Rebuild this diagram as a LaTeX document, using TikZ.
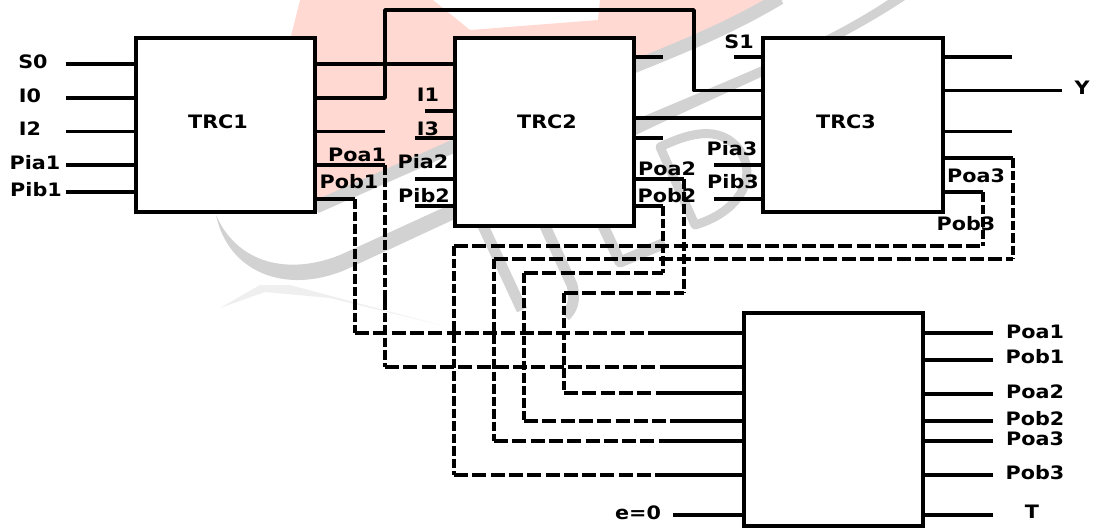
\documentclass[tikz,border=0pt]{standalone}
\usepackage{fontspec}
\setmainfont{DejaVu Sans}[FakeStretch=1.12]
\definecolor{wmpink}{HTML}{FFD9D2}
\definecolor{wmgray}{HTML}{D2D2D2}
\definecolor{wmlight}{HTML}{EFEFEF}
\tikzset{
  blockbox/.style={rectangle, draw=black, line width=4pt, fill=white, outer sep=0pt, inner sep=0pt,
                minimum width=#1},
  lbl/.style={font=\fontsize{18.5}{18.5}\selectfont\bfseries, inner sep=0pt, text=black},
  wire/.style={line width=3.2pt, draw=black},
  riser/.style={line width=3.6pt, draw=black, line join=round},
  dwire/.style={line width=3.2pt, draw=black, dash pattern=on 14pt off 4.3pt},
  dvert/.style={line width=4pt, draw=black, dash pattern=on 9.5pt off 3pt},
  wmband/.style={line width=#1, draw=wmgray, line join=round},
}
\begin{document}
\begin{tikzpicture}[x=1pt, y=-1pt]
  \useasboundingbox (0,0) rectangle (1094,528);
  % watermark
  \fill[wmpink] (300,0) -- (290,40) -- (315,213) -- (633,67) -- (783,0) -- (600,0) -- (598,20) -- (470,30) -- (433,0) -- cycle;
  \draw[wmband=13pt] (316,207) -- (633,67) .. controls (680,48) and (730,28) .. (780,-2);
  \fill[wmgray] (216,215) .. controls (228,272) and (285,295) .. (345,270) -- (640,133) .. controls (740,85) and (830,50) .. (905,0)
    -- (888,0) .. controls (820,45) and (740,75) .. (635,120) -- (340,255) .. controls (290,275) and (238,265) .. (216,215) -- cycle;
  \fill[wmlight] (220,308) -- (260,285) -- (290,285) -- (440,325) -- (330,298) -- (265,292) -- cycle;
  \draw[wmband=11pt] (478,215) -- (522,310);
  \draw[wmband=11pt] (540,215) -- (572,285) .. controls (576,300) and (572,310) .. (565,316);
  \draw[wmband=11pt] (598,215) -- (620,262) -- (665,243);
  \draw[wmband=9pt] (660,147) -- (695,225) .. controls (745,210) and (760,170) .. (735,145) .. controls (715,125) and (685,135) .. cycle;

  % blocks
  \node[blockbox=179pt, minimum height=174pt] (TRC1) at (225.5,125) {};
  \node[blockbox=179pt, minimum height=188pt] (TRC2) at (544.5,132) {};
  \node[blockbox=180pt, minimum height=174pt] (TRC3) at (853,125) {};
  \node[blockbox=179pt, minimum height=213pt] (outbox) at (833.5,419.5) {};
  \node[lbl] (tTRC1) at (218,122) {TRC1};
  \node[lbl] (tTRC2) at (547,122) {TRC2};
  \node[lbl] (tTRC3) at (846,122) {TRC3};

  % inputs of the left block
  \foreach \nm/\lx/\ly/\y in {S0/33/62/64, I0/30/96/98, I2/30/129/131.5, Pia1/35/163/165, Pib1/36/190/192}{
    \node[lbl] (l\nm) at (\lx,\ly) {\nm};
    \coordinate (c\nm) at (66,\y);
    \draw[wire] (c\nm) -- (c\nm -| TRC1.west);
  }
  % short stubs with a label
  \foreach \nm/\lx/\ly/\x/\y/\bx in {I1/428/95/425/111/TRC2, I3/428/129/415/138/TRC2, Pia2/423/162/415/179/TRC2, Pib2/424/196/415/206/TRC2,
                                     S1/739/42/734/57/TRC3, Pia3/732/149/714/165/TRC3, Pib3/733/182/714/199/TRC3}{
    \node[lbl] (l\nm) at (\lx,\ly) {\nm};
    \coordinate (c\nm) at (\x,\y);
    \draw[wire] (c\nm) -- (c\nm -| \bx.west);
  }
  % stubs without a label
  \foreach \nm/\x/\y/\bx in {a/385/131.5/TRC1, b/663/57/TRC2, c/663/138/TRC2, d/1012/57/TRC3, e/1012/131.5/TRC3}{
    \coordinate (stub\nm) at (\x,\y);
    \draw[wire] (stub\nm) -- (stub\nm -| \bx.east);
  }
  % links between the blocks
  \coordinate (tr12) at (385,64);
  \draw[wire] (tr12 -| TRC1.east) -- (tr12 -| TRC2.west);
  \coordinate (tr23) at (700,118);
  \draw[wire] (tr23 -| TRC2.east) -- (tr23 -| TRC3.west);
  \coordinate (up1) at (385,98);
  \coordinate (up2) at (694,10);
  \coordinate (up3) at (694,90.5);
  \draw[riser] (up1 -| TRC1.east) -- (up1) |- (up2) -- (up3) -- (up3 -| TRC3.west);
  % Y output
  \coordinate (cY) at (1062,90.5);
  \draw[wire] (cY -| TRC3.east) -- (cY);
  \node[lbl] (lY) at (1082,88) {Y};

  % outputs going round to the lower block
  \foreach \nm/\bx/\lx/\ly/\xa/\ya/\xm/\ym/\xb/\yb in {
      Poa1/TRC1/357/155/385/165/385/300/673/367,
      Pob1/TRC1/349/182/355/199/355/300/660/333,
      Poa2/TRC2/667/169/684/179/564/293/670/393,
      Pob2/TRC2/667/196/663/206/524/273/672/421,
      Poa3/TRC3/976/176/1013/158/494/259/660/441,
      Pob3/TRC3/966/224/983/192/454/246/660/475}{
    \node[lbl] (l\nm) at (\lx,\ly) {\nm};
    \coordinate (\nm a) at (\xa,\ya);
    \coordinate (\nm m) at (\xm,\ym);
    \coordinate (\nm b) at (\xb,\yb);
    \draw[wire] (\nm a -| \bx.east) -- (\nm a);
    \draw[dvert] (\nm a) -- (\nm a |- \nm m);
    \draw[dwire] (\nm m) -- (\nm a |- \nm m);
    \draw[dvert] (\nm m) -- (\nm m |- \nm b);
    \draw[dwire] (\nm m |- \nm b) -- (\nm b);
    \draw[wire] (\nm b) -- (\nm b -| outbox.west);
  }
  % outputs of the lower block
  \foreach \nm/\ly/\y in {Poa1/332/333, Pob1/357/360, Poa2/392/394, Pob2/419/421, Poa3/439/441, Pob3/473/475}{
    \node[lbl] (r\nm) at (1035,\ly) {\nm};
    \coordinate (o\nm) at (993,\y);
    \draw[wire] (outbox.east |- o\nm) -- (o\nm);
  }
  \node[lbl] (rT) at (1032,512) {T};
  \coordinate (oT) at (993,515);
  \draw[wire] (outbox.east |- oT) -- (oT);
  \node[lbl] (le) at (638,513) {e=0};
  \coordinate (ce) at (673,515);
  \draw[wire] (ce) -- (ce -| outbox.west);
\end{tikzpicture}
\end{document}
